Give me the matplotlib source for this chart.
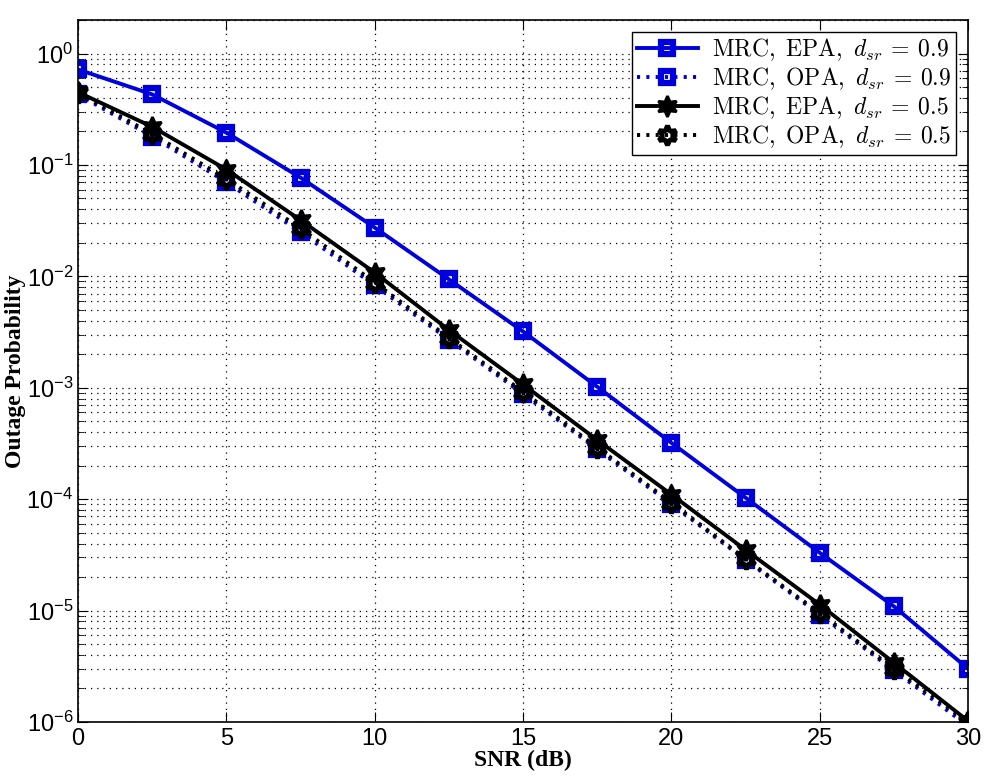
import matplotlib.pyplot as plt
from matplotlib.font_manager import FontProperties
from matplotlib.ticker import FixedLocator, NullFormatter

plt.rcParams['mathtext.fontset'] = 'custom'
plt.rcParams['mathtext.rm'] = 'Liberation Sans'
plt.rcParams['mathtext.it'] = 'Liberation Sans:italic'
plt.rcParams['font.family'] = 'Liberation Sans'

# --- data ---
snr = [0, 2.5, 5, 7.5, 10, 12.5, 15, 17.5, 20, 22.5, 25, 27.5, 30]
epa_09 = [0.72, 0.43, 0.195, 0.077, 0.0274, 0.0094, 0.0032, 0.00102,
          3.2e-4, 1.03e-4, 3.3e-5, 1.09e-5, 3.0e-6]
opa_09 = [0.43, 0.18, 0.07, 0.025, 0.0083, 0.0027, 0.00088, 2.8e-4,
          9.0e-5, 2.85e-5, 9.2e-6, 2.9e-6, 9.2e-7]
epa_05 = [0.45, 0.22, 0.091, 0.032, 0.0108, 0.0033, 0.00107, 3.4e-4,
          1.1e-4, 3.5e-5, 1.13e-5, 3.4e-6, 1.02e-6]
opa_05 = [0.44, 0.19, 0.075, 0.027, 0.0088, 0.0028, 0.00092, 2.9e-4,
          9.3e-5, 2.9e-5, 9.5e-6, 3.0e-6, 1.0e-6]

labels = [r'$\mathrm{MRC,\ EPA,}\ d_{sr}\:=\:0.9$',
          r'$\mathrm{MRC,\ OPA,}\ d_{sr}\:=\:0.9$',
          r'$\mathrm{MRC,\ EPA,}\ d_{sr}\:=\:0.5$',
          r'$\mathrm{MRC,\ OPA,}\ d_{sr}\:=\:0.5$']

decades = [1e-6, 1e-5, 1e-4, 1e-3, 1e-2, 1e-1, 1e0]

blue = '#0000dd'
star = (6, 1, 0)
dots = (0, (0.8, 1.6))

fig = plt.figure(figsize=(9.89, 7.79), dpi=100)
ax = fig.add_axes([0.0789, 0.0732, 0.9, 0.9011])

ax.semilogy(snr, epa_09, color=blue, lw=2.8, marker='s', ms=8,
            mfc='none', mew=4.5, label=labels[0])
ax.semilogy(snr, opa_09, color=blue, lw=2.8, ls=dots, marker='s', ms=8,
            mfc='none', mew=4.5, label=labels[1])
ax.semilogy(snr, epa_05, color='black', lw=2.8, marker=star, ms=15,
            mfc='black', mew=2, label=labels[2])
ax.semilogy(snr, opa_05, color='black', lw=2.8, ls=dots, marker=star, ms=14,
            mfc='none', mew=3.5, label=labels[3])

ax.set_xlim(0, 30)
ax.set_ylim(1e-6, 2)
ax.set_xticks(range(0, 31, 5))
ax.yaxis.set_major_locator(FixedLocator(decades))
minors = [d * k for d in decades for k in range(2, 10) if d * k <= 2]
ax.yaxis.set_minor_locator(FixedLocator(minors))
ax.yaxis.set_minor_formatter(NullFormatter())

ax.grid(True, which='major', axis='both', color='black', ls=(0, (1, 4)), lw=0.9)
ax.grid(True, which='minor', axis='y', color='black', ls=(0, (1, 4)), lw=0.9)
ax.tick_params(which='both', direction='in', top=True, right=True, labelsize=17)
ax.tick_params(which='major', length=7)
ax.tick_params(which='minor', length=4)
ax.tick_params(axis='x', pad=4)
for s in ax.spines.values():
    s.set_linewidth(1.2)

lab_font = FontProperties(family='Liberation Serif', weight='bold', size=17)
ax.set_xlabel('SNR (dB)', fontproperties=lab_font, labelpad=0)
ax.set_ylabel('Outage Probability', fontproperties=lab_font, labelpad=0)

leg_font = FontProperties(family='Liberation Serif', size=17, math_fontfamily='cm')
leg = ax.legend(loc='upper right', prop=leg_font, handlelength=2.6,
                borderaxespad=0.5, fancybox=False, framealpha=1,
                edgecolor='black', labelspacing=0.1, borderpad=0.2,
                handletextpad=0.6)
leg.get_frame().set_linewidth(1.0)

fig.savefig('out.png', dpi=100)
